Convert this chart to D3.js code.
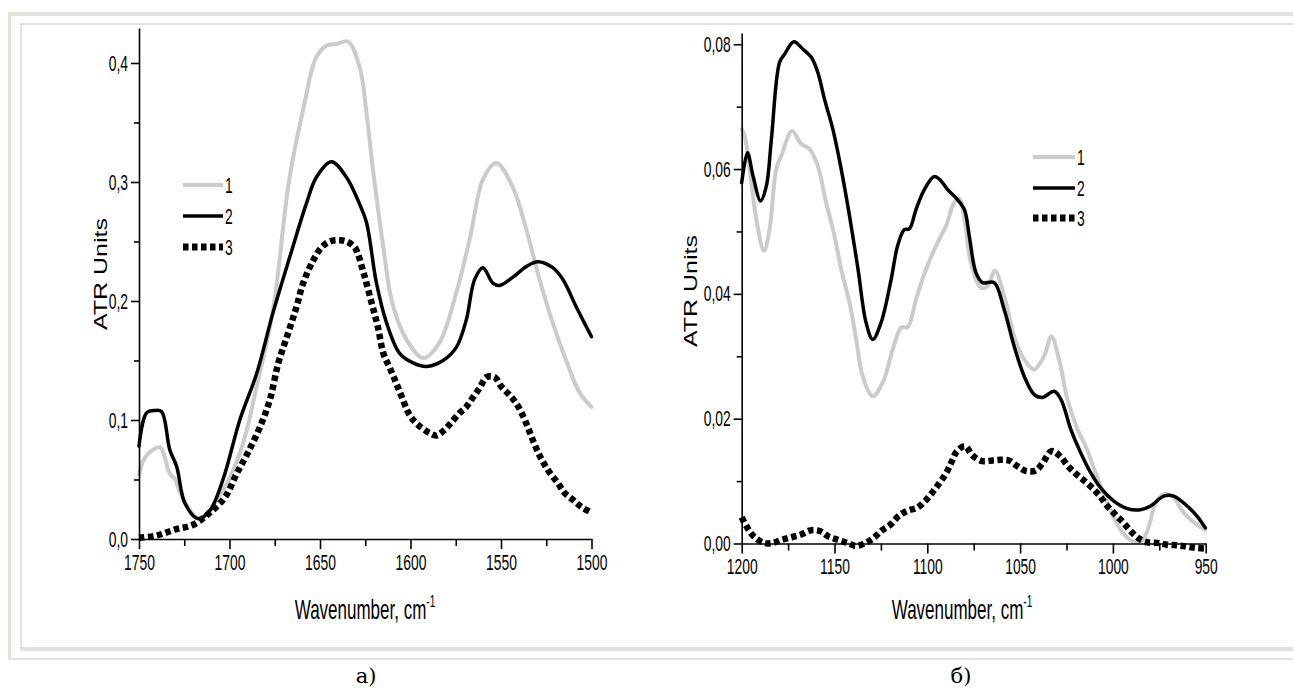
<!DOCTYPE html>
<html><head><meta charset="utf-8">
<script src="https://cdn.jsdelivr.net/npm/d3@7"></script>
<style>html,body{margin:0;padding:0;background:#fff;overflow:hidden}svg{display:block}</style>
</head><body>
<svg id="c" width="1293" height="690"></svg>
<script>
// ---------------- DATA ----------------
// Panel a) 1750-1500 cm-1
const wnA1 = [1750,1747.6,1744,1738.4,1733,1730,1727.4,1723,1718,1712.6,1707,1700,1692.4,1685,1676,1667,1659,1652,1646,1640.9,1634.5,1628,1624.3,1620.7,1615,1610,1602,1593,1584,1574.7,1567,1560,1552.6,1543.6,1536,1528.7,1521.5,1514,1506.6,1500];
const absA1 = [0.054,0.066,0.073,0.077,0.055,0.050,0.039,0.027,0.018,0.020,0.033,0.051,0.081,0.128,0.192,0.302,0.363,0.405,0.415,0.416,0.418,0.396,0.358,0.310,0.245,0.198,0.167,0.152,0.165,0.207,0.254,0.302,0.316,0.296,0.260,0.218,0.182,0.150,0.123,0.111];
const wnA2 = [1750,1745.8,1741.2,1737.5,1733,1729.2,1724.6,1717.3,1710.8,1703.6,1694.3,1685,1676,1666.7,1657.5,1652,1643.7,1635.4,1628,1624.3,1618.8,1613.3,1606,1598.6,1591.2,1582,1574.7,1569.2,1564.6,1560,1554.5,1550.8,1543.4,1536,1529.6,1521.4,1515.8,1508.4,1500];
const absA2 = [0.078,0.106,0.108,0.107,0.075,0.061,0.030,0.017,0.024,0.050,0.100,0.139,0.190,0.237,0.282,0.304,0.317,0.304,0.281,0.266,0.215,0.182,0.156,0.148,0.145,0.150,0.161,0.184,0.218,0.228,0.215,0.213,0.220,0.229,0.233,0.228,0.218,0.195,0.170];
const wnA3 = [1750,1740,1730,1720,1711,1702.5,1696,1689.7,1683.2,1677.7,1673,1667.6,1663,1659.3,1653.8,1649.2,1644.6,1639,1635.4,1630.8,1626,1621.6,1618,1615,1611.5,1608.7,1606,1600.4,1595.9,1589.4,1585.7,1581,1577.4,1572.8,1569.2,1565.5,1561.8,1558,1553.5,1549.8,1545.3,1541.6,1538,1535.2,1532.4,1529.6,1526.9,1523.2,1518.6,1515,1510.3,1505.7,1501.1];
const absA3 = [0.001,0.003,0.008,0.012,0.022,0.035,0.055,0.073,0.094,0.117,0.148,0.173,0.195,0.215,0.234,0.245,0.250,0.251,0.250,0.245,0.224,0.199,0.178,0.156,0.144,0.134,0.124,0.104,0.096,0.089,0.087,0.092,0.098,0.106,0.111,0.119,0.127,0.136,0.136,0.128,0.121,0.114,0.104,0.094,0.083,0.073,0.065,0.056,0.047,0.039,0.033,0.027,0.023];

// Panel б) 1200-950 cm-1
const wnB1 = [1200,1198.4,1195.7,1192.1,1188,1185,1181.4,1178.7,1172.9,1167.9,1163.4,1159,1154.5,1150,1146.4,1141.9,1138.3,1134.8,1129.4,1124,1118.6,1114.1,1110.5,1106.1,1100.7,1095.3,1089.9,1085.5,1082.8,1080,1076.5,1071.1,1067.6,1063.6,1058.6,1053.2,1047.8,1042.5,1037.1,1033.1,1029,1024.5,1019.1,1014.7,1009.3,1003,995.9,989.6,984.2,980.6,977,972.6,968,961.8,954.7,950.2];
const absB1 = [0.0664,0.0653,0.0600,0.0519,0.0469,0.0503,0.0600,0.0621,0.0661,0.0640,0.0632,0.0605,0.0546,0.0493,0.0439,0.0386,0.0327,0.0268,0.0236,0.0258,0.0311,0.0346,0.0347,0.0391,0.0439,0.0477,0.0509,0.0546,0.0552,0.0520,0.0450,0.0410,0.0412,0.0437,0.0397,0.0332,0.0295,0.0279,0.0300,0.0332,0.0295,0.0231,0.0183,0.0156,0.0113,0.0065,0.0022,0.0004,0.0005,0.0028,0.0065,0.0079,0.0076,0.0049,0.0030,0.0022];
const wnB2 = [1200,1196.9,1193.9,1189.8,1186.7,1184,1179.6,1176.9,1171.9,1167,1162.5,1159,1155.4,1150.9,1146.4,1141.9,1137.3,1133,1129.4,1124.9,1119.5,1116,1112.4,1109.7,1106.1,1101.6,1096.2,1092.6,1089,1084.6,1080,1077.4,1073.8,1070.3,1064,1058.6,1053.2,1047.8,1042.5,1038,1031.7,1028,1022.7,1017.3,1011.9,1006.6,999.5,992.3,985.1,979.7,972.6,967.2,960,954.7,950.2];
const absB2 = [0.0578,0.0626,0.0589,0.0549,0.0573,0.0648,0.0771,0.0784,0.0804,0.0792,0.0779,0.0755,0.0712,0.0664,0.0600,0.0525,0.0439,0.0354,0.0327,0.0354,0.0423,0.0477,0.0503,0.0504,0.0535,0.0567,0.0588,0.0581,0.0567,0.0554,0.0535,0.0493,0.0434,0.0418,0.0418,0.0375,0.0316,0.0268,0.0239,0.0234,0.0244,0.0231,0.0183,0.0145,0.0113,0.0089,0.0068,0.0056,0.0054,0.0060,0.0076,0.0076,0.0060,0.0044,0.0025];
const wnB3 = [1200,1197.5,1193.4,1188,1183.2,1178.3,1173.3,1168.3,1162.9,1158,1153.1,1148.2,1143.2,1138.3,1133.3,1128.9,1124.4,1119.9,1115.1,1110.2,1105.6,1101.2,1097.5,1093.4,1089.8,1086.7,1084,1079.7,1075.6,1070.3,1064.9,1060.4,1056,1051.5,1046.5,1041.6,1037.6,1033.1,1028.5,1024.2,1019.7,1015.2,1011.1,1007,1003,998.6,994.5,990.5,986,981.6,976,970.8,965,960,954.7,950];
const absB3 = [0.0042,0.0028,0.0011,0.0001,0.0001,0.0006,0.0010,0.0014,0.0021,0.0020,0.0011,0.0006,0.0001,-0.0004,0.0001,0.0009,0.0021,0.0030,0.0045,0.0053,0.0057,0.0068,0.0081,0.0097,0.0113,0.0132,0.0148,0.0156,0.0141,0.0132,0.0133,0.0134,0.0133,0.0124,0.0116,0.0117,0.0130,0.0148,0.0140,0.0124,0.0111,0.0100,0.0089,0.0076,0.0060,0.0046,0.0034,0.0020,0.0008,0.0002,0.0001,-0.0002,-0.0003,-0.0005,-0.0007,-0.0008];

// Ticks & labels
const xTicksA = [1750,1700,1650,1600,1550,1500];
const xMinorA = [1725,1675,1625,1575,1525];
const yTicksA = [0.0,0.1,0.2,0.3,0.4];
const yMinorA = [0.05,0.15,0.25,0.35];
const xTicksB = [1200,1150,1100,1050,1000,950];
const xMinorB = [1175,1125,1075,1025,975];
const yTicksB = [0.00,0.02,0.04,0.06,0.08];
const yMinorB = [0.01,0.03,0.05,0.07];
const legendLabels = ["1","2","3"];
const yTitleText = "ATR Units";
const xTitleText = "Wavenumber, cm";
const xTitleSup = "-1";
const captions = ["а)","б)"];

// ---------------- DRAWING ----------------
const svg = d3.select('#c');
const SX = 0.63;
const FONT = "'Liberation Sans', Arial, sans-serif";
const frameC = '#e2e2da';

// frame (double border)
const fr = svg.append('g');
fr.append('rect').attr('x',8).attr('y',12).attr('width',1300).attr('height',4).attr('fill',frameC);
fr.append('rect').attr('x',8).attr('y',12).attr('width',3).attr('height',648).attr('fill',frameC);
fr.append('rect').attr('x',8).attr('y',658).attr('width',1300).attr('height',2).attr('fill',frameC);
fr.append('rect').attr('x',20).attr('y',23).attr('width',1290).attr('height',2).attr('fill',frameC);
fr.append('rect').attr('x',20).attr('y',23).attr('width',2).attr('height',628).attr('fill',frameC);
fr.append('rect').attr('x',20).attr('y',647).attr('width',1290).attr('height',4).attr('fill',frameC);

const styles = [
  {stroke:'#cbcbcb', width:4, dash:null, cap:'round'},
  {stroke:'#000', width:3.5, dash:null, cap:'round'},
  {stroke:'#000', width:6.5, dash:'5.5,3.5', cap:'butt'}
];

const panels = [
  {x0:139, x1:591.5, y0:539, yTop:28, xDom:[1750,1500], yMax:0.4294,
   xT:xTicksA, xM:xMinorA, yT:yTicksA, yM:yMinorA, fmt:'.1f',
   data:[[wnA1,absA1],[wnA2,absA2],[wnA3,absA3]],
   leg:{x:183, y:[185,216,247], len:40},
   yTitle:{x:100, y:274}, xTitle:{x:365, y:619}, cap:{x:366, y:683, t:captions[0]}},
  {x0:741.7, x1:1205.7, y0:543.5, yTop:33, xDom:[1200,950], yMax:0.0818,
   xT:xTicksB, xM:xMinorB, yT:yTicksB, yM:yMinorB, fmt:'.2f',
   data:[[wnB1,absB1],[wnB2,absB2],[wnB3,absB3]],
   leg:{x:1033, y:[157,188,218], len:42},
   yTitle:{x:690, y:291}, xTitle:{x:962, y:619}, cap:{x:961, y:683, t:captions[1]}}
];

panels.forEach(p => {
  const g = svg.append('g');
  const x = d3.scaleLinear().domain(p.xDom).range([p.x0, p.x1]);
  const y = d3.scaleLinear().domain([0, p.yMax]).range([p.y0, p.yTop]);
  const fmt = v => d3.format(p.fmt)(v).replace('.', ',');

  // curves
  const line = d3.line().x(d => x(d[0])).y(d => y(d[1])).curve(d3.curveCatmullRom.alpha(0.5));
  p.data.forEach((s, i) => {
    const pts = s[0].map((w, k) => [w, s[1][k]]);
    const st = styles[i];
    g.append('path').datum(pts).attr('d', line).attr('fill','none')
      .attr('stroke', st.stroke).attr('stroke-width', st.width)
      .attr('stroke-linecap', st.cap).attr('stroke-linejoin','round')
      .attr('stroke-dasharray', st.dash);
  });

  // axes
  const xa = g.append('g').attr('transform', `translate(0,${p.y0})`)
    .call(d3.axisBottom(x).tickValues(p.xT).tickSize(10).tickSizeOuter(0).tickPadding(5).tickFormat(d3.format('d')));
  const xm = g.append('g').attr('transform', `translate(0,${p.y0})`)
    .call(d3.axisBottom(x).tickValues(p.xM).tickSize(7).tickSizeOuter(0).tickFormat(''));
  xm.select('.domain').remove();
  const ya = g.append('g').attr('transform', `translate(${p.x0},0)`)
    .call(d3.axisLeft(y).tickValues(p.yT).tickSize(8).tickSizeOuter(0).tickPadding(3).tickFormat(fmt));
  const ym = g.append('g').attr('transform', `translate(${p.x0},0)`)
    .call(d3.axisLeft(y).tickValues(p.yM).tickSize(5).tickSizeOuter(0).tickFormat(''));
  ym.select('.domain').remove();
  [xa, xm, ya, ym].forEach(a => {
    a.attr('font-family', FONT).attr('font-size', 22);
    a.selectAll('path,line').attr('stroke', '#000').attr('stroke-width', 1.6);
  });
  xa.selectAll('text').attr('fill','#000').attr('transform', `scale(${SX},1)`);
  ya.selectAll('text').attr('fill','#000').attr('x', -11 / SX).attr('transform', `scale(${SX},1)`);

  // legend
  p.leg.y.forEach((ly, i) => {
    const st = styles[i];
    g.append('line').attr('x1', p.leg.x).attr('x2', p.leg.x + p.leg.len)
      .attr('y1', ly).attr('y2', ly)
      .attr('stroke', st.stroke).attr('stroke-width', i === 2 ? 7 : st.width)
      .attr('stroke-dasharray', st.dash);
    g.append('text').attr('transform', `translate(${p.leg.x + p.leg.len + 2},${ly}) scale(${SX},1)`)
      .attr('dy', '0.36em').attr('font-family', FONT).attr('font-size', 22).attr('fill','#000')
      .text(legendLabels[i]);
  });

  // y title
  g.append('text').attr('transform', `translate(${p.yTitle.x},${p.yTitle.y}) scale(0.75,1) rotate(-90)`)
    .attr('text-anchor','middle').attr('dy','0.36em').attr('font-family', FONT).attr('font-size', 25).attr('fill','#000')
    .text(yTitleText);

  // x title
  const xt = g.append('text').attr('transform', `translate(${p.xTitle.x},${p.xTitle.y}) scale(${SX},1)`)
    .attr('text-anchor','middle').attr('font-family', FONT).attr('font-size', 27).attr('fill','#000');
  xt.append('tspan').text(xTitleText);
  xt.append('tspan').attr('font-size', 16).attr('dy', -12).text(xTitleSup);

  // caption
  svg.append('text').attr('x', p.cap.x).attr('y', p.cap.y).attr('text-anchor','middle')
    .attr('font-family', "'DejaVu Serif', serif").attr('font-size', 21).attr('fill','#000').text(p.cap.t);
});
</script>
</body></html>
